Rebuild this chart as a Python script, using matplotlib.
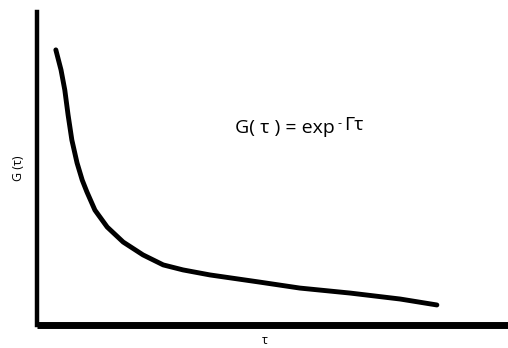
"""Exponential decay of the correlation function G(tau)."""

import matplotlib.pyplot as plt

plt.rcParams["font.family"] = ["Open Sans", "DejaVu Sans"]

tau = [4.0, 5.1, 5.9, 6.6, 7.4, 8.5, 9.6, 10.6, 12.3, 14.9, 18.3, 22.5,
       26.8, 31.0, 36.7, 47.3, 55.8, 66.5, 77.1, 84.9]
g_tau = [87.9, 81.5, 75.1, 67.1, 59.1, 51.8, 46.3, 42.5, 36.7, 31.3, 26.5,
         22.4, 19.2, 17.6, 16.0, 13.7, 11.8, 10.2, 8.3, 6.4]

W, H = 508, 348
fig = plt.figure(figsize=(W / 100, H / 100), dpi=100)
ax = fig.add_axes([37 / W, (H - 325) / H, 471 / W, 313 / H])

ax.plot(tau, g_tau, color="black", lw=3.5, solid_capstyle="round",
        solid_joinstyle="round")

ax.set_xlim(0, 100)
ax.set_ylim(0, 100)
ax.set_xticks([])
ax.set_yticks([])
for side in ("top", "right"):
    ax.spines[side].set_visible(False)
ax.spines["left"].set_linewidth(3.2)
ax.spines["bottom"].set_linewidth(5.0)
ax.spines["bottom"].set_capstyle("butt")

ax.set_ylabel("G (τ)", fontsize=9, labelpad=9)
ax.set_xlabel("τ", fontsize=9, labelpad=4)
ax.xaxis.set_label_coords(0.484, -0.03)

formula = ax.text(42, 63, "G( τ ) = exp", fontsize=14, ha="left",
                  va="center")
ax.annotate("-", xy=(1, 0.5), xycoords=formula, xytext=(2, 3),
            textcoords="offset points", fontsize=9, ha="left", va="center")
ax.annotate("Γτ", xy=(1, 0.5), xycoords=formula, xytext=(7, 2),
            textcoords="offset points", fontsize=14, ha="left", va="center")

fig.savefig("out.png", dpi=100)
